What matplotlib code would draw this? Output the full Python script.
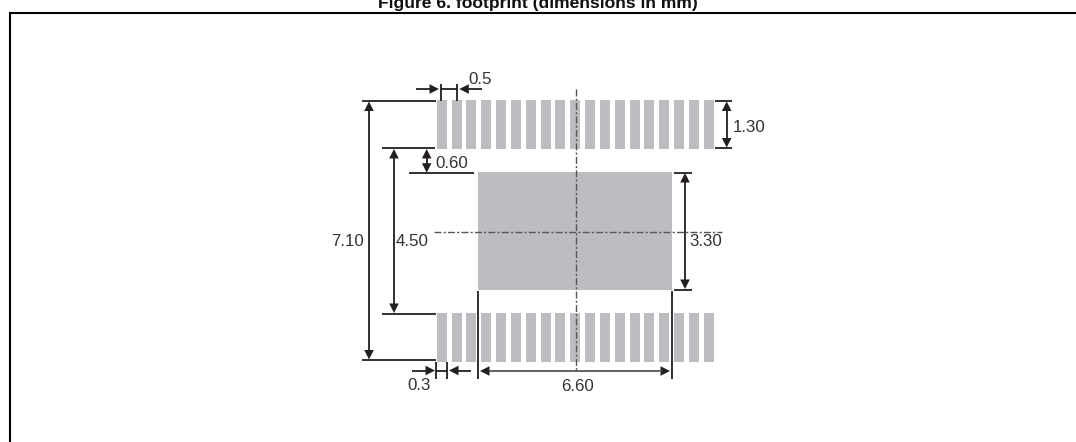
import matplotlib
matplotlib.use("Agg")
import matplotlib.pyplot as plt
from matplotlib.patches import Rectangle

plt.rcParams['font.family'] = ['Liberation Sans', 'DejaVu Sans']

TITLE = "Figure 6. footprint (dimensions in mm)"
PAD_COUNT = 19
PAD_PITCH = 0.5
PAD_WIDTH = 0.337
PAD_HEIGHT = 1.33
ROW_SPAN = 7.10
BODY_WIDTH = 6.54
BODY_HEIGHT = 3.20
LABELS = {"pitch": "0.5", "pad_h": "1.30", "gap": "0.60", "outer": "7.10",
          "inner": "4.50", "body_h": "3.30", "pad_w": "0.3", "body_w": "6.60"}

W, H = 1076, 442
fig = plt.figure(figsize=(W / 100, H / 100), dpi=100)

# mm axes (the drawing's horizontal and vertical scales differ)
SX, SY = 29.66, 36.9
CX, CY = 575.3, 231.0
mm = fig.add_axes([0, 0, 1, 1])
mm.set_xlim(-CX / SX, (W - CX) / SX)
mm.set_ylim(-(H - CY) / SY, CY / SY)
mm.axis("off")

GREY = "#bcbdc0"
for i in range(PAD_COUNT):
    x = (i - (PAD_COUNT - 1) / 2) * PAD_PITCH - PAD_WIDTH / 2
    mm.add_patch(Rectangle((x, ROW_SPAN / 2 - PAD_HEIGHT), PAD_WIDTH, PAD_HEIGHT, fc=GREY, ec="none"))
    mm.add_patch(Rectangle((x, -ROW_SPAN / 2), PAD_WIDTH, PAD_HEIGHT, fc=GREY, ec="none"))
mm.add_patch(Rectangle((-BODY_WIDTH / 2, -BODY_HEIGHT / 2), BODY_WIDTH, BODY_HEIGHT, fc=GREY, ec="none"))

# annotation overlay in image pixels
ax = fig.add_axes([0, 0, 1, 1], facecolor="none")
ax.set_xlim(0, W)
ax.set_ylim(H, 0)
ax.axis("off")

INK = "#231f20"
def line(x0, y0, x1, y1, lw=1.3, color=INK, **kw):
    ax.plot([x0, x1], [y0, y1], color=color, lw=lw, solid_capstyle="butt", **kw)

def head(x, y, direction, l=9.5, w=4.8):
    dx, dy = {"u": (0, -1), "d": (0, 1), "l": (-1, 0), "r": (1, 0)}[direction]
    px, py = -dy, dx
    ax.fill([x, x - dx * l + px * w, x - dx * l - px * w],
            [y, y - dy * l + py * w, y - dy * l - py * w], color=INK, lw=0)

def label(x, y, s):
    ax.text(x, y, s, fontsize=12.2, color="#333333", ha="center", va="center_baseline")

# title and frame
ax.text(538, 8, TITLE, fontsize=12.6, fontweight="bold", ha="center", va="baseline", color="#111111", clip_on=False)
line(10, 442, 10, 13, lw=1.5, color="black")
line(9.3, 13, 1076, 13, lw=1.5, color="black")

# centre lines
DASH = (0, (5, 1.6, 1.5, 1.6))
ax.plot([575.7, 575.7], [89, 372], color="#555555", lw=1.0, ls=DASH)
ax.plot([434, 722], [231.7, 231.7], color="#555555", lw=1.0, ls=DASH)

# extension lines
line(362, 100.7, 436, 100.7)
line(382, 148, 435, 148)
line(409, 173, 474, 173)
line(382, 313.7, 436, 313.7)
line(362, 360, 436, 360)
line(715, 100.7, 732, 100.7)
line(715, 148, 732, 148)
line(674, 172.5, 692, 172.5)
line(674, 289.7, 692, 289.7)
line(441, 84, 441, 101)
line(457, 84, 457, 101)
line(436, 362, 436, 379)
line(447, 362, 447, 379)
line(478.3, 291, 478.3, 379)
line(672, 291, 672, 379)

# dimension lines
line(369, 110, 369, 352)
head(369, 101.5, "u"); head(369, 359.5, "d")
line(394, 158, 394, 304)
head(394, 149, "u"); head(394, 313, "d")
line(426.7, 157, 426.7, 165)
head(426.7, 149, "u"); head(426.7, 172.7, "d")
line(726.7, 110, 726.7, 140)
head(726.7, 101.5, "u"); head(726.7, 147.5, "d")
line(685, 182, 685, 280)
head(685, 173, "u"); head(685, 289, "d")
line(416, 89, 431, 89); head(439, 89, "r")
line(441, 89, 457, 89)
line(467, 89, 482, 89); head(459.3, 89, "l")
line(412, 370.5, 427, 370.5); head(435, 370.5, "r")
line(436, 370.5, 447, 370.5)
line(456, 370.5, 471, 370.5); head(449, 370.5, "l")
line(489, 371, 662, 371, color="#555555"); head(480, 371, "l"); head(670, 371, "r")

# labels
label(480, 78, LABELS["pitch"])
label(749, 126.5, LABELS["pad_h"])
label(451.5, 162, LABELS["gap"])
label(348, 240.5, LABELS["outer"])
label(412.5, 240.5, LABELS["inner"])
label(706, 240.5, LABELS["body_h"])
label(419.5, 384.5, LABELS["pad_w"])
label(578, 385, LABELS["body_w"])

fig.savefig("out.png", dpi=100)
